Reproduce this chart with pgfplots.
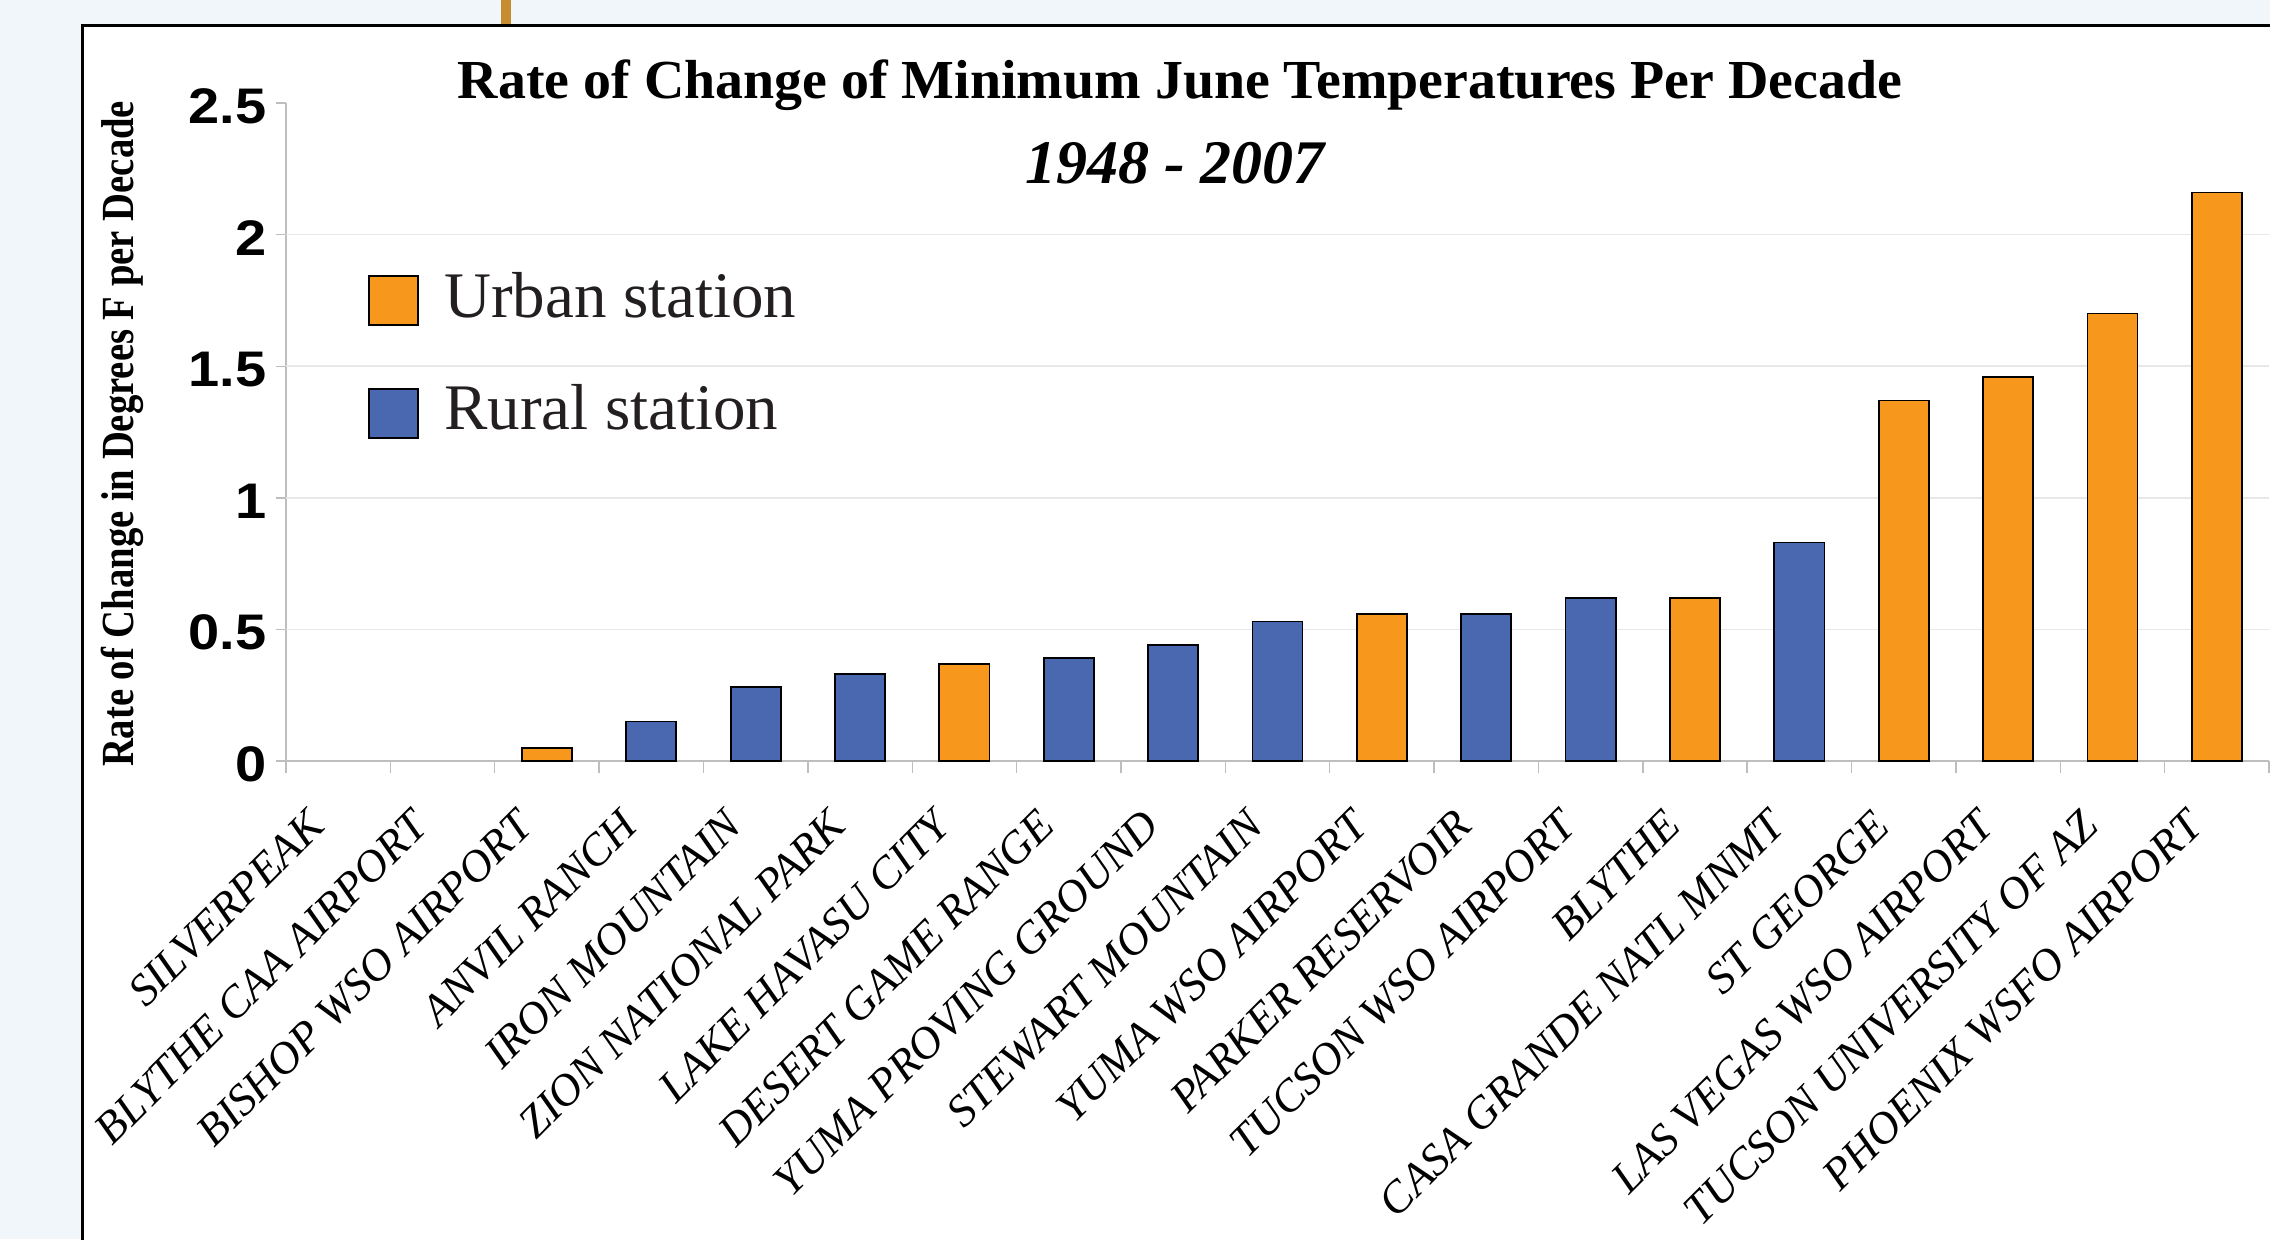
\documentclass[border=0pt]{standalone}
\usepackage{pgfplots}
\pgfplotsset{compat=1.18}
\usepackage{fontspec}
\setmainfont{Liberation Serif}
\setsansfont{Liberation Sans}
\usepackage{graphicx}
\definecolor{urban}{RGB}{247,152,29}
\definecolor{rural}{RGB}{74,104,176}
\definecolor{bgblue}{RGB}{241,246,251}
\definecolor{gold}{RGB}{198,140,46}
\definecolor{axgray}{RGB}{190,190,190}
\definecolor{gridgray}{RGB}{232,232,232}
\definecolor{txt}{RGB}{35,31,32}
\newcommand{\yt}[1]{\scalebox{1.12}[1]{#1}}
\begin{document}
\begin{tikzpicture}
\useasboundingbox (0,0) rectangle (1135pt,619.5pt);
\clip (0,0) rectangle (1135pt,619.5pt);
\fill[bgblue] (0,0) rectangle (1135pt,619.5pt);
\fill[white] (41.25pt,-5pt) rectangle (1140pt,606.75pt);
\draw[black, line width=1.5pt] (41.25pt,-5pt) -- (41.25pt,606.75pt) -- (1140pt,606.75pt);
\fill[gold] (250.5pt,607.5pt) rectangle (255.5pt,620pt);
\begin{axis}[
  at={(143pt,239pt)}, anchor=south west,
  scale only axis, width=991.5pt, height=329pt,
  xmin=-0.5, xmax=18.5, ymin=0, ymax=2.5,
  axis x line*=bottom, axis y line*=left,
  axis line style={draw=axgray, line width=0.7pt, -},
  ybar, bar width=0.48,
  xtick={0,...,18},
  xticklabels={SILVERPEAK,BLYTHE CAA AIRPORT,BISHOP WSO AIRPORT,ANVIL RANCH,IRON MOUNTAIN,ZION NATIONAL PARK,LAKE HAVASU CITY,DESERT GAME RANGE,YUMA PROVING GROUND,STEWART MOUNTAIN,YUMA WSO AIRPORT,PARKER RESERVOIR,TUCSON WSO AIRPORT,BLYTHE,CASA GRANDE NATL MNMT,ST GEORGE,LAS VEGAS WSO AIRPORT,TUCSON UNIVERSITY OF AZ,PHOENIX WSFO AIRPORT},
  major x tick style={draw=none},
  minor xtick={-0.5,0.5,...,18.5},
  minor x tick style={draw=axgray, line width=0.7pt},
  minor tick length=6pt,
  major tick length=5pt,
  tick align=outside,
  ytick={0,0.5,1,1.5,2,2.5}, yticklabels={\yt{0},\yt{0.5},\yt{1},\yt{1.5},\yt{2},\yt{2.5}},
  y tick style={draw=axgray, line width=0.7pt},
  extra y ticks={0.5,1,1.5,2}, extra y tick labels={},
  extra y tick style={major tick length=0pt, grid=major},
  grid style={draw=gridgray, line width=0.8pt},
  yticklabel style={font=\fontsize{25}{25}\selectfont\sffamily\bfseries, anchor=east, inner sep=0pt, yshift=-1.5pt},
  yticklabel shift=4.5pt,
  xticklabel style={font=\fontsize{22.4}{22.4}\selectfont\itshape, xshift=-11pt, yshift=-23.5pt, rotate=45, anchor=east, inner sep=0pt},
  title={\resizebox{722pt}{\height}{\fontsize{27.5}{27.5}\selectfont\bfseries Rate of Change of Minimum June Temperatures Per Decade}},
  title style={at={(axis description cs:0.4508,0.989)}, anchor=base, inner sep=0pt},
  ylabel={\resizebox{333pt}{\height}{\fontsize{23}{23}\selectfont\bfseries Rate of Change in Degrees F per Decade}},
  ylabel style={at={(axis description cs:-0.0770,0.497)}, anchor=base, rotate=0, inner sep=0pt},
  clip=false,
]
\addplot[fill=urban, draw=black, line width=0.9pt, bar shift=0pt] coordinates {(2,0.05) (6,0.37) (10,0.56) (13,0.62) (15,1.37) (16,1.46) (17,1.70) (18,2.16)};
\addplot[fill=rural, draw=black, line width=0.9pt, bar shift=0pt] coordinates {(3,0.15) (4,0.28) (5,0.33) (7,0.39) (8,0.44) (9,0.53) (11,0.56) (12,0.62) (14,0.83)};
\node[anchor=base, inner sep=0pt] at (axis description cs:0.4483,0.8784) {\fontsize{31}{31}\selectfont\bfseries\itshape 1948 - 2007};
\end{axis}
\draw[black, line width=0.8pt, fill=urban] (184.5pt,457pt) rectangle (209pt,481.5pt);
\draw[black, line width=0.8pt, fill=rural] (184.5pt,400.5pt) rectangle (209pt,425pt);
\node[anchor=base west, inner sep=0pt, text=txt] at (222pt,460.5pt) {\fontsize{32.5}{32.5}\selectfont Urban station};
\node[anchor=base west, inner sep=0pt, text=txt] at (222pt,404.5pt) {\fontsize{32.5}{32.5}\selectfont Rural station};
\end{tikzpicture}
\end{document}
